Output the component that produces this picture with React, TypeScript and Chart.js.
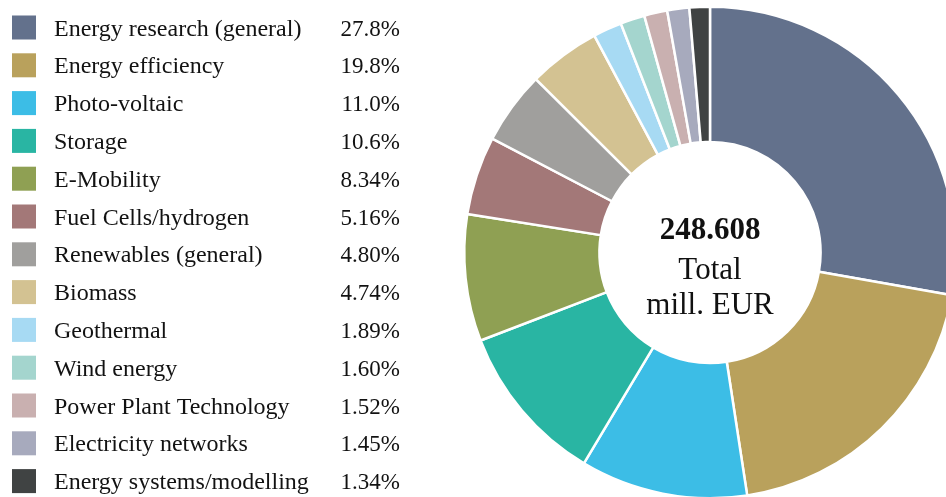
import React, { useEffect, useRef } from "react";
import { Chart, registerables } from "chart.js";

Chart.register(...registerables);

const categories = [
  "Energy research (general)",
  "Energy efficiency",
  "Photo-voltaic",
  "Storage",
  "E-Mobility",
  "Fuel Cells/hydrogen",
  "Renewables (general)",
  "Biomass",
  "Geothermal",
  "Wind energy",
  "Power Plant Technology",
  "Electricity networks",
  "Energy systems/modelling",
];

const shares = [27.8, 19.8, 11.0, 10.6, 8.34, 5.16, 4.8, 4.74, 1.89, 1.6, 1.52, 1.45, 1.34];

const shareLabels = ["27.8%", "19.8%", "11.0%", "10.6%", "8.34%", "5.16%", "4.80%", "4.74%", "1.89%", "1.60%", "1.52%", "1.45%", "1.34%"];

const colors = [
  "#63718c",
  "#b9a15c",
  "#3cbde6",
  "#29b5a3",
  "#8fa053",
  "#a37878",
  "#a09f9d",
  "#d3c292",
  "#a7daf3",
  "#a4d5ce",
  "#c9b0b0",
  "#a7aabd",
  "#404343",
];

const centerLines = ["248.608", "Total", "mill. EUR"];

const FONT = "'Liberation Serif', 'Times New Roman', serif";

export default function App() {
  const ref = useRef<HTMLCanvasElement | null>(null);

  useEffect(() => {
    document.body.style.margin = "0";
    const canvas = ref.current;
    if (!canvas) return;

    const legendPlugin = {
      id: "sideLegend",
      afterDraw(chart: any) {
        const ctx = chart.ctx as CanvasRenderingContext2D;
        ctx.save();
        const startY = 27.5;
        const step = 37.8;
        categories.forEach((name, i) => {
          const cy = startY + i * step;
          ctx.fillStyle = colors[i];
          ctx.fillRect(12, cy - 12, 24, 24);
          ctx.fillStyle = "#121212";
          ctx.textBaseline = "alphabetic";
          ctx.textAlign = "left";
          ctx.font = `24px ${FONT}`;
          ctx.fillText(name, 54, cy + 8);
          ctx.textAlign = "right";
          ctx.font = `23px ${FONT}`;
          ctx.fillText(shareLabels[i], 400, cy + 8);
        });
        const meta = chart.getDatasetMeta(0);
        const arc = meta.data[0];
        const cx = arc.x;
        const cyc = arc.y;
        ctx.textAlign = "center";
        ctx.fillStyle = "#111";
        ctx.font = `bold 31px ${FONT}`;
        ctx.fillText(centerLines[0], cx, cyc - 14);
        ctx.font = `31px ${FONT}`;
        ctx.fillText(centerLines[1], cx, cyc + 26);
        ctx.fillText(centerLines[2], cx, cyc + 61);
        ctx.restore();
      },
    };

    const chart = new Chart(canvas, {
      type: "doughnut",
      data: {
        labels: categories,
        datasets: [
          {
            data: shares,
            backgroundColor: colors,
            borderColor: "#ffffff",
            borderWidth: 2.5,
            hoverOffset: 0,
          },
        ],
      },
      options: {
        responsive: false,
        animation: false,
        cutout: "45%",
        layout: { padding: { left: 463, right: 3, top: 5.5, bottom: 2.5 } },
        plugins: {
          legend: { display: false },
          tooltip: { enabled: false },
        },
      },
      plugins: [legendPlugin],
    });

    return () => chart.destroy();
  }, []);

  return (
    <div style={{ width: 946, height: 497, overflow: "hidden", background: "#fff" }}>
      <canvas ref={ref} width={960} height={502} style={{ display: "block" }} />
    </div>
  );
}
